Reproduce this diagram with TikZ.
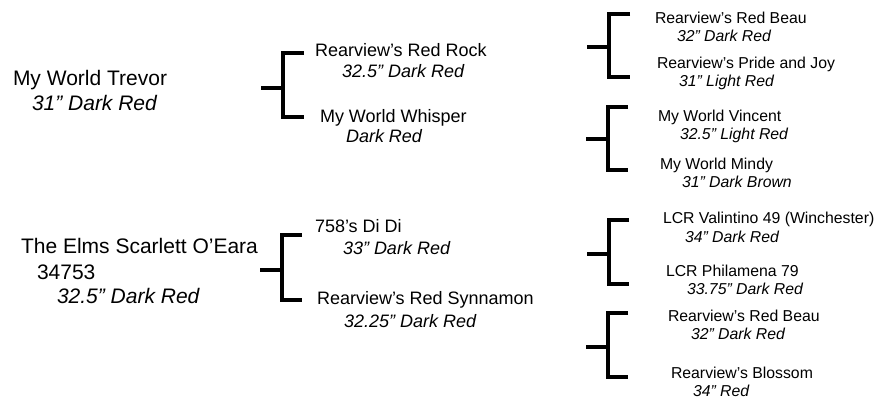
\documentclass[tikz,border=0pt]{standalone}
\usepackage{fontspec}
\setmainfont{Liberation Sans}
\begin{document}
\begin{tikzpicture}[x=1pt,y=-1pt,
  txt/.style={anchor=base west,inner sep=0pt,outer sep=0pt,text=black},
  big/.style={txt,font=\fontsize{21}{25}\selectfont},
  bigi/.style={txt,font=\fontsize{21}{25}\selectfont\itshape},
  mid/.style={txt,font=\fontsize{18}{22}\selectfont},
  midi/.style={txt,font=\fontsize{18}{22}\selectfont\itshape},
  sml/.style={txt,font=\fontsize{15.8}{19}\selectfont},
  smli/.style={txt,font=\fontsize{15.8}{19}\selectfont\itshape},
  brk/.style={line width=4pt,line join=miter,black}]
\useasboundingbox (0,0) rectangle (882,400);
\fill[white] (0,0) rectangle (882,400);

% Generation 1
\node[big]  (trevor)  at (13,85)  {My World Trevor};
\node[bigi] (trevorS) at (32,110) {31” Dark Red};
\node[big]  (elms)    at (21,253) {The Elms Scarlett O’Eara};
\node[big]  (elmsN)   at (37,279) {34753};
\node[bigi] (elmsS)   at (57,303) {32.5” Dark Red};

% Generation 2
\node[mid]  (rock)     at (315,56)  {Rearview’s Red Rock};
\node[midi] (rockS)    at (342,77)  {32.5” Dark Red};
\node[mid]  (whisper)  at (320,122) {My World Whisper};
\node[midi] (whisperS) at (346,142) {Dark Red};
\node[mid]  (didi)     at (315,232) {758’s Di Di};
\node[midi] (didiS)    at (343,254) {33” Dark Red};
\node[mid]  (synn)     at (317,304) {Rearview’s Red Synnamon};
\node[midi] (synnS)    at (344,327) {32.25” Dark Red};

% Generation 3
\node[sml]  (beauA)    at (655,23)  {Rearview’s Red Beau};
\node[smli] (beauAS)   at (677,41)  {32” Dark Red};
\node[sml]  (pride)    at (657,68)  {Rearview’s Pride and Joy};
\node[smli] (prideS)   at (679,86)  {31” Light Red};
\node[sml]  (vincent)  at (658,121) {My World Vincent};
\node[smli] (vincentS) at (680,139) {32.5” Light Red};
\node[sml]  (mindy)    at (660,169) {My World Mindy};
\node[smli] (mindyS)   at (682,187) {31” Dark Brown};
\node[sml]  (vali)     at (663,223) {LCR Valintino 49 (Winchester)};
\node[smli] (valiS)    at (685,242) {34” Dark Red};
\node[sml]  (phil)     at (666,276) {LCR Philamena 79};
\node[smli] (philS)    at (687,294) {33.75” Dark Red};
\node[sml]  (beauB)    at (668,321) {Rearview’s Red Beau};
\node[smli] (beauBS)   at (691,339) {32” Dark Red};
\node[sml]  (blossom)  at (671,378) {Rearview’s Blossom};
\node[smli] (blossomS) at (693,396) {34” Red};

% Bracket coordinates
\coordinate (b1s) at (261,88);  \coordinate (b1m) at (283,88);
\coordinate (b1t) at (304,53);  \coordinate (b1b) at (304,117);
\coordinate (b2s) at (260,270); \coordinate (b2m) at (282,270);
\coordinate (b2t) at (302,235); \coordinate (b2b) at (302,300);
\coordinate (b3s) at (587,47);  \coordinate (b3m) at (609,47);
\coordinate (b3t) at (630,14);  \coordinate (b3b) at (630,77);
\coordinate (b4s) at (586,139); \coordinate (b4m) at (608,139);
\coordinate (b4t) at (628,107); \coordinate (b4b) at (628,170);
\coordinate (b5s) at (587,254); \coordinate (b5m) at (609,254);
\coordinate (b5t) at (629,220); \coordinate (b5b) at (629,284);
\coordinate (b6s) at (586,347); \coordinate (b6m) at (608,347);
\coordinate (b6t) at (628,313); \coordinate (b6b) at (628,377);

\foreach \b in {b1,b2,b3,b4,b5,b6}{
  \draw[brk] (\b s) -- (\b m);
  \draw[brk] (\b t) -- (\b m |- \b t) -- (\b m |- \b b) -- (\b b);
}
\end{tikzpicture}
\end{document}
